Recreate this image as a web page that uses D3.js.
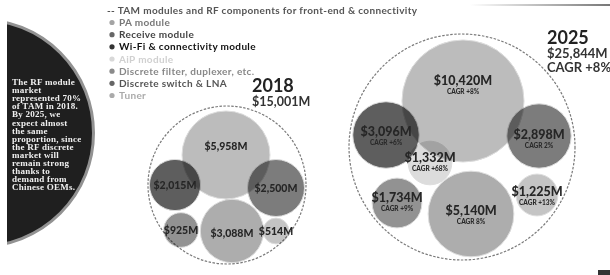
<!DOCTYPE html>
<html>
<head>
<meta charset="utf-8">
<script src="https://cdn.jsdelivr.net/npm/d3@7"></script>
<style>
  body { margin: 0; background: #fff; }
  svg { display: block; font-family: Lato, "Open Sans", sans-serif; }
  .bub { mix-blend-mode: multiply; }
</style>
</head>
<body>
<div id="io"></div>
<script>
// module names (legend order)
const MODULES = ['PA module', 'Receive module', 'Wi-Fi & connectivity module', 'AiP module',
  'Discrete filter, duplexer, etc.', 'Discrete switch & LNA', 'Tuner'];
// market size, $M
const VAL_2018 = [5958, 2015, 2500, null, 3088, 925, 514];
const VAL_2025 = [10420, 3096, 2898, 1332, 5140, 1734, 1225];
const CAGR = ['+8%', '+6%', '2%', '+68%', '8%', '+9%', '+13%'];
const TOTALS = [15001, 25844];
const YEARS = ['2018', '2025'];
const TOTAL_CAGR = '+8%';
const NOTE = ['The RF module', 'market', 'represented 70%', 'of TAM in 2018.', 'By 2025, we',
  'expect almost', 'the same', 'proportion, since', 'the RF discrete', 'market will',
  'remain strong', 'thanks to', 'demand from', 'Chinese OEMs.'];

// styling
const fillCol = ['#bcbcbc', '#5e5e5e', '#7c7c7c', '#dcdcdc', '#adadad', '#929292', '#c4c4c4'];
const dotCol = ['#a4a4a4', '#666', '#333', '#d8d8d8', '#8a8a8a', '#666', '#aaa'];
const txtCol = ['#777', '#444', '#111', '#d0d0d0', '#888', '#555', '#aaa'];

// bubble placement inside each cluster (offset from cluster centre, label shift)
const layout2018 = [[-1, -30, -9], [-52, 0, 0], [49, 3, 0], null, [5, 46, 2], [-46, 45, 0], [49, 46, 0]];
const layout2025 = [[1, -46, -19], [-76, -12, -2], [77, -11, 0], [-32, 16, -4], [9, 67, -2], [-65, 56, -4], [75, 48, -2]];

const fmt = d => '$' + d3.format(',')(d) + 'M';

const svg = d3.select('#io').append('svg').attr('width', 610).attr('height', 275);
const defs = svg.append('defs');

// left note circle
svg.append('circle').attr('cx', -20).attr('cy', 133).attr('r', 113.5)
  .attr('fill', '#1f1f1f').attr('stroke', '#929292').attr('stroke-width', 3);
svg.append('rect').attr('x', 0).attr('y', 0).attr('width', 7).attr('height', 275).attr('fill', '#fff');
svg.append('text').attr('x', 12).attr('y', 85)
  .style('font-family', '"Liberation Serif", serif').style('font-size', '9px').style('font-weight', 700)
  .style('letter-spacing', '0.25px').attr('fill', '#f0f0f0')
  .selectAll('tspan').data(NOTE).join('tspan')
  .attr('x', 12).attr('dy', (d, i) => i ? 8.1 : 0).text(d => d);

// top-right rule
const g1 = defs.append('linearGradient').attr('id', 'rule');
g1.append('stop').attr('offset', 0).attr('stop-color', '#fff');
g1.append('stop').attr('offset', 1).attr('stop-color', '#777');
svg.append('rect').attr('x', 470).attr('y', 4).attr('width', 140).attr('height', 2).attr('fill', 'url(#rule)');
svg.append('rect').attr('x', 598).attr('y', 270).attr('width', 12).attr('height', 5).attr('fill', '#333');

// legend
const leg = svg.append('g').style('font-weight', 700).style('font-size', '10px').style('letter-spacing', '0.35px');
leg.append('text').attr('x', 107).attr('y', 14).attr('fill', '#555')
  .text('-- TAM modules and RF components for front-end & connectivity');
const ly = d3.scalePoint().domain(MODULES).range([26, 99]);
const li = leg.selectAll('g.li').data(MODULES).join('g').attr('class', 'li')
  .attr('transform', d => `translate(0,${ly(d)})`);
li.append('circle').attr('cx', 112).attr('cy', -3.5).attr('r', 2.6).attr('fill', (d, i) => dotCol[i]);
li.append('text').attr('x', 119).attr('y', 0).attr('fill', (d, i) => txtCol[i]).text(d => d);

// clusters
function cluster(vals, lay, cx, cy, R, k, big, withCagr) {
  const r = d3.scaleSqrt().domain([0, d3.max(vals)]).range([0, k * Math.sqrt(d3.max(vals))]);
  const g = svg.append('g');
  g.append('circle').attr('cx', cx).attr('cy', cy).attr('r', R)
    .attr('fill', 'none').attr('stroke', '#7a7a7a').attr('stroke-width', 1.2).attr('stroke-dasharray', '2.5,1.5');
  const items = vals.map((v, i) => ({ v, i, l: lay[i] })).filter(d => d.v != null);
  g.selectAll('circle.bub').data(items).join('circle').attr('class', 'bub')
    .attr('cx', d => cx + d.l[0]).attr('cy', d => cy + d.l[1]).attr('r', d => r(d.v))
    .attr('fill', d => fillCol[d.i]).attr('stroke', '#ddd').attr('stroke-width', 1);
  const t = g.selectAll('g.lab').data(items).join('g').attr('class', 'lab')
    .attr('transform', d => `translate(${cx + d.l[0]},${cy + d.l[1] + d.l[2]})`);
  t.append('text').attr('text-anchor', 'middle').attr('y', withCagr ? 3 : 4)
    .style('font-size', big + 'px').style('font-weight', 900).attr('fill', '#262626')
    .text(d => fmt(d.v));
  if (withCagr) {
    t.append('text').attr('text-anchor', 'middle').attr('y', 12)
      .style('font-size', '6.5px').style('font-weight', 900).attr('fill', '#2a2a2a')
      .text(d => 'CAGR ' + CAGR[d.i]);
  }
}
cluster(VAL_2018, layout2018, 227, 185, 79, 0.57, 10.5, false);
cluster(VAL_2025, layout2025, 462, 147, 113, 0.598, 12.5, true);

// titles
const tt = svg.append('g').style('font-weight', 700).attr('fill', '#222');
tt.append('text').attr('x', 252).attr('y', 92).style('font-size', '18px').text(YEARS[0]);
tt.append('text').attr('x', 252).attr('y', 106).style('font-size', '12.5px').attr('fill', '#333').text(fmt(TOTALS[0]));
tt.append('text').attr('x', 547).attr('y', 44).style('font-size', '18px').text(YEARS[1]);
tt.append('text').attr('x', 547).attr('y', 58).style('font-size', '13px').attr('fill', '#333').text(fmt(TOTALS[1]));
tt.append('text').attr('x', 547).attr('y', 72).style('font-size', '13px').attr('fill', '#333').text('CAGR ' + TOTAL_CAGR);
</script>
</body>
</html>
